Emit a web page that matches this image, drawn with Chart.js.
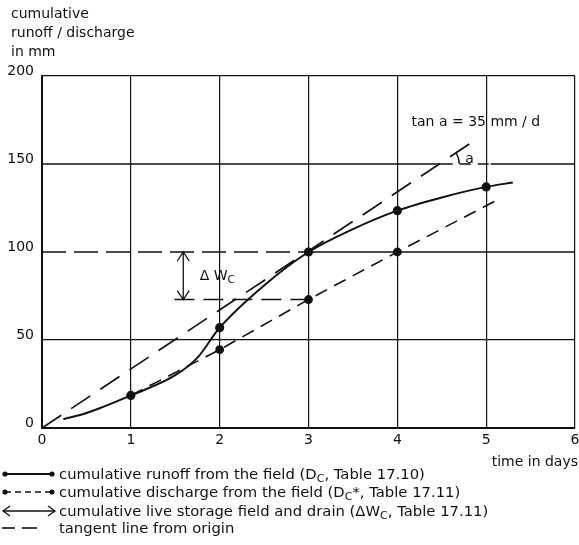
<!DOCTYPE html>
<html><head><meta charset="utf-8">
<script src="https://cdn.jsdelivr.net/npm/chart.js@4/dist/chart.umd.min.js"></script>
<style>
body{margin:0;background:#fff;}
#wrap{position:relative;width:579px;height:545px;font-family:"DejaVu Sans",sans-serif;font-size:14px;color:#111;overflow:hidden;}
canvas{position:absolute;left:0;top:0;}
.t{position:absolute;white-space:nowrap;line-height:19px;}
.sub{font-size:10.5px;position:relative;top:3px;}
.row{position:absolute;left:0;height:18px;line-height:18px;white-space:nowrap;font-size:14.8px;}
.row .sub{font-size:11px;}
.row svg{position:absolute;left:0;top:0;}
.row span.lt{position:absolute;left:59px;top:0;}
</style></head><body>
<div id="wrap">
<canvas id="c" width="579" height="545"></canvas>
<div class="t" style="left:11px;top:4px;">cumulative<br>runoff / discharge<br>in mm</div>
<div class="t" style="right:1px;top:452px;">time in days</div>
<div class="t" id="tan">tan a = 35 mm / d</div>
<div class="t" id="dw">Δ W<span class="sub">C</span></div>
<div class="t" id="alab">a</div>
<div class="row" style="top:465px;"><svg width="58" height="18"><line x1="5" y1="9" x2="52" y2="9" stroke="#111" stroke-width="1.8"/><circle cx="5" cy="9" r="2.6" fill="#111"/><circle cx="52" cy="9" r="2.6" fill="#111"/></svg><span class="lt">cumulative runoff from the field (D<span class="sub">C</span>, Table 17.10)</span></div>
<div class="row" style="top:483px;"><svg width="58" height="18"><line x1="5" y1="9" x2="52" y2="9" stroke="#111" stroke-width="1.6" stroke-dasharray="6,4"/><circle cx="5" cy="9" r="2.6" fill="#111"/><circle cx="52" cy="9" r="2.6" fill="#111"/></svg><span class="lt">cumulative discharge from the field (D<span class="sub">C</span>*, Table 17.11)</span></div>
<div class="row" style="top:502px;"><svg width="58" height="18"><line x1="3" y1="9" x2="55" y2="9" stroke="#111" stroke-width="1.3"/><polyline points="10,4 3,9 10,14" fill="none" stroke="#111" stroke-width="1.3"/><polyline points="48,4 55,9 48,14" fill="none" stroke="#111" stroke-width="1.3"/></svg><span class="lt">cumulative live storage field and drain (ΔW<span class="sub">C</span>, Table 17.11)</span></div>
<div class="row" style="top:519px;"><svg width="58" height="18"><line x1="2" y1="9" x2="15" y2="9" stroke="#111" stroke-width="1.6"/><line x1="22" y1="9" x2="37" y2="9" stroke="#111" stroke-width="1.6"/></svg><span class="lt">tangent line from origin</span></div>
</div>
<script>
// ---- data ----
const xTicks = [0, 1, 2, 3, 4, 5, 6];
const yTicks = [0, 50, 100, 150, 200];
const runoffDays = [0.24, 0.5, 1, 1.5, 1.75, 2, 2.5, 3, 3.5, 4, 4.5, 5, 5.3];
const runoffMm   = [5, 8.5, 18.5, 30, 40, 57, 81, 100, 113, 123.5, 131, 137, 139.5];
const runoffMarkedDays = [1, 2, 3, 4, 5];
const dischargeDays = [1, 2, 3, 4, 5.16];
const dischargeMm   = [18.5, 44.5, 73, 100, 130.5];
const dischargeMarkedDays = [2, 3, 4];
const tangentDays = [0, 4.83];
const tangentMm   = [0, 162];
const storageTop = 100, storageBottom = 73, storageArrowDay = 1.59, storageLineStartDay = 1.49;

const BLACK = '#111';
const pts = (xs, ys) => xs.map((x, i) => ({x, y: ys[i]}));
const FONT = {family: 'DejaVu Sans', size: 14};

const annot = {
  id: 'annot',
  afterDatasetsDraw(chart) {
    const c = chart.ctx, xs = chart.scales.x, ys = chart.scales.y;
    c.save();
    c.strokeStyle = BLACK; c.lineWidth = 1.3;
    const ax = xs.getPixelForValue(storageArrowDay);
    const y1 = ys.getPixelForValue(storageTop), y2 = ys.getPixelForValue(storageBottom);
    c.beginPath(); c.moveTo(ax, y1); c.lineTo(ax, y2);
    c.moveTo(ax - 6, y1 + 9); c.lineTo(ax, y1); c.lineTo(ax + 6, y1 + 9);
    c.moveTo(ax - 6, y2 - 9); c.lineTo(ax, y2); c.lineTo(ax + 6, y2 - 9);
    c.stroke();
    const slope = tangentMm[1] / tangentDays[1];
    const cx = xs.getPixelForValue(150 / slope), cy = ys.getPixelForValue(150);
    const dx = xs.getPixelForValue(1) - xs.getPixelForValue(0);
    const dy = ys.getPixelForValue(0) - ys.getPixelForValue(slope);
    const ang = Math.atan2(dy, dx);
    c.beginPath(); c.arc(cx, cy, 20, -ang, 0); c.stroke();
    c.restore();
  }
};

const chart = new Chart(document.getElementById('c'), {
  type: 'scatter',
  data: {
    datasets: [
      {data: pts(runoffDays, runoffMm), showLine: true, borderColor: BLACK, backgroundColor: BLACK,
       borderWidth: 2, cubicInterpolationMode: 'monotone',
       pointRadius: ctx => runoffMarkedDays.includes(ctx.raw && ctx.raw.x) ? 3.6 : 0},
      {data: pts(dischargeDays, dischargeMm), showLine: true, borderColor: BLACK, backgroundColor: BLACK,
       borderWidth: 1.6, borderDash: [13, 8],
       pointRadius: ctx => dischargeMarkedDays.includes(ctx.raw && ctx.raw.x) ? 3.6 : 0},
      {data: pts(tangentDays, tangentMm), showLine: true, borderColor: BLACK, borderWidth: 1.7,
       borderDash: [23, 12], pointRadius: 0},
      {data: pts([0, 3, 6], [storageTop, storageTop, storageTop]), showLine: true, borderColor: BLACK,
       borderWidth: 1.4, pointRadius: 0,
       segment: {borderDash: ctx => ctx.p0DataIndex === 0 ? [24, 8] : []}},
      {data: pts([storageLineStartDay, 3], [storageBottom, storageBottom]), showLine: true, borderColor: BLACK,
       borderWidth: 1.4, pointRadius: 0, borderDash: [20, 9]},
      {data: pts([0, 4.5, 5.05, 6], [150, 150, 150, 150]), showLine: true, borderColor: BLACK,
       borderWidth: 1.4, pointRadius: 0,
       segment: {borderDash: ctx => ctx.p0DataIndex === 1 ? [11, 7] : []}}
    ]
  },
  options: {
    responsive: false, animation: false, devicePixelRatio: 1,
    layout: {padding: {top: 76, right: 0, bottom: 87, left: 0}},
    plugins: {legend: {display: false}, tooltip: {enabled: false}},
    scales: {
      x: {type: 'linear', min: 0, max: 6,
          afterBuildTicks: s => { s.ticks = xTicks.map(v => ({value: v})); },
          ticks: {color: BLACK, font: FONT, padding: 4, maxRotation: 0},
          grid: {color: BLACK, lineWidth: 1.2, drawTicks: false},
          border: {color: BLACK, width: 2},
          afterFit: s => { s.height = 30; s.paddingRight = 4; s.paddingLeft = 0; }},
      y: {type: 'linear', min: 0, max: 200,
          afterBuildTicks: s => { s.ticks = yTicks.map(v => ({value: v})); },
          ticks: {color: BLACK, font: FONT, padding: 8, labelOffset: -5},
          grid: {color: ctx => (ctx.tick && (ctx.tick.value === 100 || ctx.tick.value === 150)) ? 'rgba(0,0,0,0)' : BLACK,
                 lineWidth: 1.2, drawTicks: false},
          border: {color: BLACK, width: 2},
          afterFit: s => { s.width = 42; }}
    }
  },
  plugins: [annot]
});

function place(id, xv, yv, dxp, dyp) {
  const el = document.getElementById(id);
  el.style.left = (chart.scales.x.getPixelForValue(xv) + dxp) + 'px';
  el.style.top = (chart.scales.y.getPixelForValue(yv) + dyp) + 'px';
}
place('tan', 4.16, 174, 0, -9.5);
place('dw', 1.775, 86.7, 0, -9.5);
place('alab', 4.765, 153, 0, -9.5);
</script>
</body></html>
